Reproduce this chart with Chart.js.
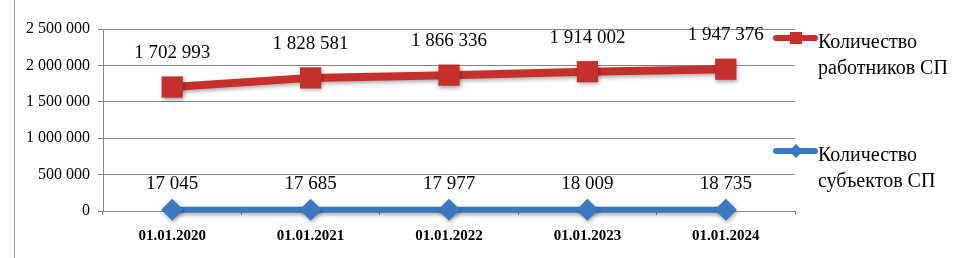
<!DOCTYPE html>
<html>
<head>
<meta charset="utf-8">
<script src="https://cdn.jsdelivr.net/npm/chart.js@4"></script>
<style>
  html, body { margin: 0; padding: 0; background: #fff; }
  #wrap { width: 955px; height: 258px; position: relative; }
</style>
</head>
<body>
<div id="wrap"><canvas id="myChart"></canvas></div>
<script>
const labels = ["01.01.2020", "01.01.2021", "01.01.2022", "01.01.2023", "01.01.2024"];
const workers = [1702993, 1828581, 1866336, 1914002, 1947376];
const subjects = [17045, 17685, 17977, 18009, 18735];
const workersLabel = ["Количество", "работников СП"];
const subjectsLabel = ["Количество", "субъектов СП"];
const yTicks = [0, 500000, 1000000, 1500000, 2000000, 2500000];

const RED = "#c6302c";
const BLUE = "#3a78c2";
const SERIF = "'Liberation Serif', 'Times New Roman', serif";

function fmt(v) {
  return String(v).replace(/\B(?=(\d{3})+(?!\d))/g, " ");
}

// value labels, drop shadow, legend and frame line
const extras = {
  id: "extras",
  beforeDatasetsDraw(chart) {
    const c = chart.ctx;
    c.save();
    c.shadowColor = "rgba(0,0,0,0.35)";
    c.shadowBlur = 4;
    c.shadowOffsetX = 1;
    c.shadowOffsetY = 2;
  },
  afterDatasetsDraw(chart) {
    chart.ctx.restore();
  },
  afterDraw(chart) {
    const c = chart.ctx;
    c.save();
    c.fillStyle = "#9a9a9a";
    c.fillRect(14, 0, 1, chart.height);

    c.fillStyle = "#000";
    c.textAlign = "center";
    c.textBaseline = "alphabetic";
    c.font = "19px " + SERIF;
    chart.data.datasets.forEach((ds, i) => {
      const meta = chart.getDatasetMeta(i);
      meta.data.forEach((pt, j) => {
        c.fillText(fmt(ds.data[j]), pt.x, pt.y - ds.labelGap);
      });
    });

    // legend
    chart.data.datasets.forEach((ds) => {
      const y = ds.legendY;
      c.strokeStyle = ds.borderColor;
      c.lineWidth = 6;
      c.lineCap = "round";
      c.beginPath();
      c.moveTo(776, y);
      c.lineTo(815, y);
      c.stroke();
      c.fillStyle = ds.borderColor;
      if (ds.pointStyle === "rect") {
        c.fillRect(790, y - 6, 12, 12);
      } else {
        c.beginPath();
        c.moveTo(796, y - 7);
        c.lineTo(803, y);
        c.lineTo(796, y + 7);
        c.lineTo(789, y);
        c.closePath();
        c.fill();
      }
      c.fillStyle = "#000";
      c.textAlign = "left";
      c.font = "20px " + SERIF;
      ds.legendText.forEach((t, k) => {
        c.fillText(t, 818, y + 10 + k * 26);
      });
    });
    c.restore();
  }
};

const data = {
  labels: labels,
  datasets: [
    {
      label: workersLabel.join(" "),
      legendText: workersLabel,
      legendY: 38,
      labelGap: 29,
      data: workers,
      borderColor: RED,
      backgroundColor: RED,
      borderWidth: 8,
      pointStyle: "rect",
      pointRadius: 15,
      pointHoverRadius: 15,
      pointBorderWidth: 0,
      clip: false,
    },
    {
      label: subjectsLabel.join(" "),
      legendText: subjectsLabel,
      legendY: 151,
      labelGap: 21,
      data: subjects,
      borderColor: BLUE,
      backgroundColor: BLUE,
      borderWidth: 6,
      pointStyle: "rectRot",
      pointRadius: 11,
      pointHoverRadius: 11,
      pointBorderWidth: 0,
      clip: false,
    },
  ],
};

const config = {
  type: "line",
  data: data,
  plugins: [extras],
  options: {
    responsive: false,
    animation: false,
    devicePixelRatio: 1,
    layout: { padding: { left: 0, top: 29, right: 160, bottom: 0 } },
    plugins: {
      legend: { display: false },
      tooltip: { enabled: false },
    },
    scales: {
      x: {
        offset: true,
        grid: { offset: true, drawOnChartArea: false, drawTicks: true, tickLength: 4, color: "#868686" },
        border: { color: "#868686" },
        ticks: {
          color: "#000",
          padding: 12,
          maxRotation: 0,
          font: { family: SERIF, size: 15, weight: "bold" },
        },
        afterFit(scale) { scale.height = 47; },
      },
      y: {
        min: 0,
        max: 2500000,
        afterBuildTicks(scale) { scale.ticks = yTicks.map((v) => ({ value: v })); },
        grid: { color: "#868686", tickLength: 5 },
        border: { color: "#868686" },
        ticks: {
          color: "#000",
          padding: 8,
          font: { family: SERIF, size: 16 },
          callback: (v) => fmt(v),
        },
        afterFit(scale) { scale.width = 103; },
      },
    },
  },
};

const canvas = document.getElementById("myChart");
canvas.width = 955;
canvas.height = 258;
const myChart = new Chart(canvas.getContext("2d"), config);
</script>
</body>
</html>
